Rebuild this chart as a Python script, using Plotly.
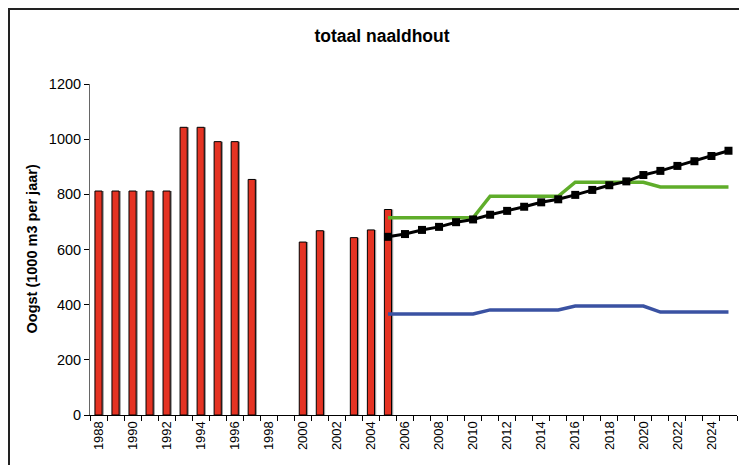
import plotly.graph_objects as go

# Data
bar_years = [1988, 1989, 1990, 1991, 1992, 1993, 1994, 1995, 1996, 1997,
             2000, 2001, 2003, 2004, 2005]
bar_values = [812, 812, 812, 812, 812, 1043, 1043, 991, 991, 854,
              627, 668, 643, 671, 745]

line_years = list(range(2005, 2026))
green_values = [715, 715, 715, 715, 715, 715, 793, 793, 793, 793, 793,
                844, 844, 844, 844, 844, 827, 827, 827, 827, 827]
blue_values = [366, 366, 366, 366, 366, 366, 381, 381, 381, 381, 381,
               395, 395, 395, 395, 395, 373, 373, 373, 373, 373]
black_values = [646, 656, 671, 682, 699, 709, 726, 740, 755, 771, 782,
                798, 816, 833, 847, 870, 885, 903, 920, 939, 958]

tick_years = list(range(1988, 2025, 2))
tick_labels = [str(y) for y in tick_years]

FONT = "Liberation Sans, Arial, sans-serif"
BW = 0.42
L, T, PW, PH = 82, 76, 647, 331

fig = go.Figure()
# bar shadow
fig.add_trace(go.Bar(x=bar_years, y=bar_values, width=BW, offset=-BW / 2 + 0.1,
                     marker=dict(color="#9a9a9a", line=dict(width=0)),
                     hoverinfo="skip", showlegend=False))
fig.add_trace(go.Bar(x=bar_years, y=bar_values, width=BW, offset=-BW / 2,
                     marker=dict(color="#E53323", line=dict(color="black", width=1)),
                     showlegend=False))
fig.add_trace(go.Scatter(x=line_years, y=blue_values, mode="lines",
                         line=dict(color="#3A52A2", width=3.5), showlegend=False))
fig.add_trace(go.Scatter(x=line_years, y=green_values, mode="lines",
                         line=dict(color="#5FAD2A", width=3.5), showlegend=False))
fig.add_trace(go.Scatter(x=line_years, y=black_values, mode="lines+markers",
                         line=dict(color="black", width=3),
                         marker=dict(symbol="square", size=8, color="black"),
                         showlegend=False))

fig.update_layout(
    width=747, height=465,
    margin=dict(l=L, r=747 - L - PW, t=T, b=465 - T - PH, autoexpand=False),
    paper_bgcolor="white", plot_bgcolor="white",
    barmode="overlay",
    font=dict(family=FONT, size=13, color="black"),
    title=dict(text="<b>totaal naaldhout</b>", x=(382 - 8) / 747, xref="container",
               xanchor="center", y=1 - 28 / 465, yref="container", yanchor="middle",
               font=dict(size=17.5, family=FONT, color="black")),
    xaxis=dict(range=[1987.5, 2025.5], tickmode="array", tickvals=tick_years,
               ticktext=tick_labels, tickangle=-90, ticks="",
               showline=True, linecolor="black", linewidth=1, showgrid=False,
               zeroline=False, tickfont=dict(size=13), automargin=False,
               minor=dict(tickmode="linear", tick0=1987.5, dtick=1,
                          ticks="outside", ticklen=5, tickcolor="black",
                          showgrid=False)),
    yaxis=dict(range=[0, 1200], dtick=200, ticks="outside", ticklen=5,
               tickcolor="black", showline=True, linecolor="#666666",
               linewidth=1, showgrid=False, zeroline=False, automargin=False,
               tickfont=dict(size=14.5)),
    annotations=[dict(text="<b>Oogst (1000 m3 per jaar)</b>", textangle=-90,
                      xref="paper", yref="paper", x=(31 - 90) / PW, y=0.5,
                      xanchor="center", yanchor="middle", showarrow=False,
                      font=dict(size=14.5, family=FONT, color="black"))],
    shapes=[dict(type="rect", xref="paper", yref="paper",
                 x0=(-L + 1) / PW, x1=1.06, y0=-0.3, y1=1 + (T - 1) / PH,
                 line=dict(color="#222222", width=2))],
)

fig.write_html("out.html")
